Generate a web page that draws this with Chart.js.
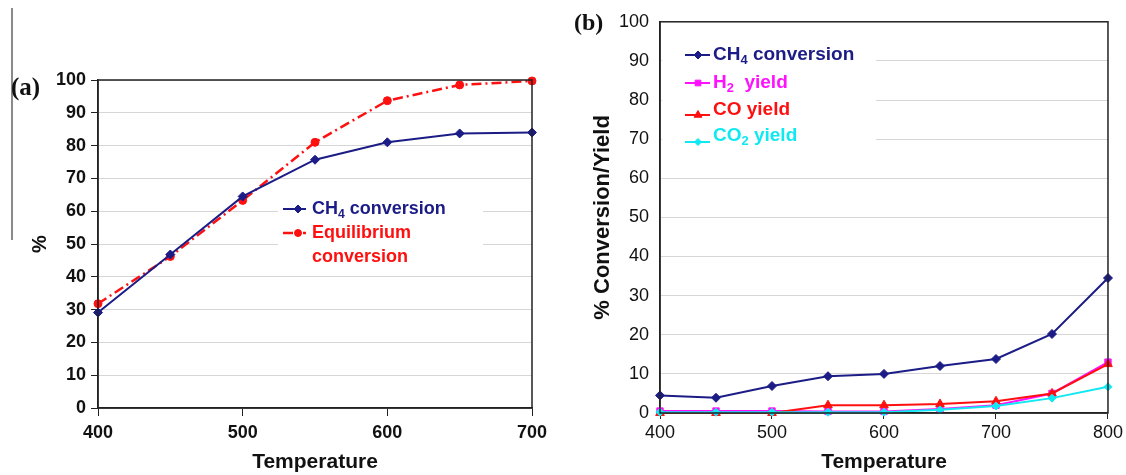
<!DOCTYPE html>
<html>
<head>
<meta charset="utf-8">
<script src="https://cdn.jsdelivr.net/npm/chart.js"></script>
<style>
    body { margin: 0; background: #fff; }
    #contenedor { position: relative; width: 1126px; height: 475px; overflow: hidden; }
    .panel { position: absolute; top: 0; height: 475px; }
    .etiqueta { position: absolute; font-family: "Liberation Serif", "Times New Roman", serif; font-weight: bold; color: #111; line-height: 1; }
    #raya { position: absolute; left: 11px; top: 8px; width: 2px; height: 232px; background: #8a8a8a; }
</style>
</head>
<body>
<div id="contenedor">
    <div class="panel" style="left:0;width:560px"><canvas id="grafico-a"></canvas></div>
    <div class="panel" style="left:560px;width:566px"><canvas id="grafico-b"></canvas></div>
    <div id="raya"></div>
    <div class="etiqueta" style="left:11px;top:74px;font-size:25px">(a)</div>
    <div class="etiqueta" style="left:574px;top:10px;font-size:24px">(b)</div>
</div>
<script>
// Datos panel (a)
const temperaturasA = [400, 450, 500, 550, 600, 650, 700];
const conversionCH4A = [29.1, 46.8, 64.5, 75.7, 81.0, 83.7, 84.0];
const conversionEquilibrio = [31.8, 46.2, 63.3, 81.0, 93.7, 98.5, 99.7];
const ticksXA = [400, 500, 600, 700];

// Datos panel (b)
const temperaturasB = [400, 450, 500, 550, 600, 650, 700, 750, 800];
const conversionCH4B = [4.5, 3.9, 6.9, 9.4, 10.0, 12.0, 13.8, 20.2, 34.5];
const rendimientoH2 = [0.5, 0.5, 0.5, 0.4, 0.4, 1.0, 2.0, 5.0, 13.0];
const rendimientoCO = [0.0, 0.0, 0.0, 2.0, 2.0, 2.3, 3.0, 5.0, 12.5];
const rendimientoCO2 = [0.2, 0.2, 0.2, 0.2, 0.2, 0.8, 1.8, 3.8, 6.7];
const ticksXB = [400, 500, 600, 700, 800];

const ticksY = [0, 10, 20, 30, 40, 50, 60, 70, 80, 90, 100];

const AZUL = "#1c1c86";
const ROJO = "#ff1010";
const MAGENTA = "#ff10ff";
const CIAN = "#10e8f2";
const FUENTE = '"Liberation Sans", Arial, sans-serif';

function puntos(xs, ys) {
    return xs.map((x, i) => ({ x: x, y: ys[i] }));
}

// caja negra alrededor del area del grafico
const marcoPlugin = {
    id: 'marco',
    afterDraw(chart) {
        const a = chart.chartArea;
        const ctx = chart.ctx;
        ctx.save();
        ctx.strokeStyle = "#222";
        ctx.lineWidth = 1.5;
        ctx.strokeRect(a.left, a.top, a.right - a.left, a.bottom - a.top);
        ctx.restore();
    }
};

// leyenda a mano, con subindices
const leyendaPlugin = {
    id: 'leyenda',
    beforeDatasetsDraw(chart, args, opts) {
        const ctx = chart.ctx;
        const f = opts.fondo;
        ctx.save();
        ctx.fillStyle = "#fff";
        ctx.fillRect(f.x, f.y, f.w, f.h);
        ctx.restore();
    },
    afterDraw(chart, args, opts) {
        const ctx = chart.ctx;
        ctx.save();
        opts.items.forEach(function (item) {
            const yl = item.y + (item.dy || 0);
            if (item.marca) {
                ctx.strokeStyle = item.color;
                ctx.fillStyle = item.color;
                ctx.lineWidth = item.ancho || 2;
                ctx.setLineDash(item.dash || []);
                ctx.beginPath();
                ctx.moveTo(opts.x0, yl);
                ctx.lineTo(opts.x1, yl);
                ctx.stroke();
                ctx.setLineDash([]);
                ctx.lineWidth = 1;
                Chart.helpers.drawPoint(ctx, { pointStyle: item.marca, radius: item.radio, rotation: 0, borderWidth: 1 }, opts.xm, yl);
            }
            let x = opts.xt;
            ctx.fillStyle = item.color;
            ctx.textBaseline = "middle";
            item.partes.forEach(function (p) {
                const sub = p[1];
                ctx.font = "bold " + (sub ? opts.tam * 0.68 : opts.tam) + "px " + FUENTE;
                ctx.fillText(p[0], x, item.y + (sub ? opts.tam * 0.3 : 0));
                x += ctx.measureText(p[0]).width;
            });
        });
        ctx.restore();
    }
};

function ejeY(titulo, tamTitulo, tamTicks, negrita, conTicks, ancho) {
    return {
        type: 'linear', min: 0, max: 100,
        afterBuildTicks: s => { s.ticks = ticksY.map(v => ({ value: v })); },
        afterFit: s => { s.width = ancho; },
        grid: { color: "#d6d6d6", lineWidth: 1, drawTicks: conTicks, tickLength: 7, tickColor: "#222" },
        border: { color: "#222", width: 1.5 },
        ticks: {
            color: "#111", padding: conTicks ? 5 : 11,
            font: { family: FUENTE, size: tamTicks, weight: negrita ? 'bold' : 'normal' }
        },
        title: {
            display: true, text: titulo, color: "#111", padding: 0,
            font: { family: FUENTE, size: tamTitulo, weight: 'bold' }
        }
    };
}

function ejeX(min, max, lista, tamTicks, negrita, largoTick, pad, alto) {
    return {
        type: 'linear', min: min, max: max,
        afterBuildTicks: s => { s.ticks = lista.map(v => ({ value: v })); },
        afterFit: s => { s.height = alto; },
        grid: { drawOnChartArea: false, drawTicks: true, tickLength: largoTick, tickColor: "#222" },
        border: { color: "#222", width: 1.5 },
        ticks: {
            color: "#111", padding: pad, maxRotation: 0,
            font: { family: FUENTE, size: tamTicks, weight: negrita ? 'bold' : 'normal' }
        },
        title: {
            display: true, text: 'Temperature', color: "#111", padding: 0,
            font: { family: FUENTE, size: 21, weight: 'bold' }
        }
    };
}

const comunes = {
    responsive: true,
    maintainAspectRatio: false,
    animation: false,
    events: []
};

new Chart(document.getElementById('grafico-a'), {
    type: 'line',
    data: {
        datasets: [{
            label: 'CH4 conversion',
            data: puntos(temperaturasA, conversionCH4A),
            borderColor: AZUL, backgroundColor: AZUL,
            borderWidth: 2, tension: 0, clip: false,
            pointStyle: 'rectRot', pointRadius: 4.5, pointBorderWidth: 1
        }, {
            label: 'Equilibrium conversion',
            data: puntos(temperaturasA, conversionEquilibrio),
            borderColor: ROJO, backgroundColor: ROJO,
            borderWidth: 2.5, borderDash: [10, 4, 2, 4], tension: 0, clip: false,
            pointStyle: 'circle', pointRadius: 4, pointBorderWidth: 1
        }]
    },
    options: Object.assign({}, comunes, {
        layout: { padding: { left: 28, top: 80, right: 28, bottom: 0 } },
        scales: {
            x: ejeX(400, 700, ticksXA, 18, true, 8, 6, 67),
            y: ejeY('%', 20, 18, true, true, 70)
        },
        plugins: {
            legend: { display: false },
            tooltip: { enabled: false },
            leyenda: {
                fondo: { x: 278, y: 192, w: 205, h: 78 },
                x0: 283, x1: 306, xm: 298, xt: 312, tam: 18,
                items: [
                    { y: 209, color: AZUL, marca: 'rectRot', radio: 4, ancho: 2,
                      partes: [['CH', false], ['4', true], [' conversion', false]] },
                    { y: 233, color: ROJO, marca: 'circle', radio: 3.5, ancho: 2.5, dash: [10, 4, 2, 4],
                      partes: [['Equilibrium', false]] },
                    { y: 257, color: ROJO,
                      partes: [['conversion', false]] }
                ]
            }
        }
    }),
    plugins: [leyendaPlugin, marcoPlugin]
});

new Chart(document.getElementById('grafico-b'), {
    type: 'line',
    data: {
        datasets: [{
            label: 'CH4 conversion',
            data: puntos(temperaturasB, conversionCH4B),
            borderColor: AZUL, backgroundColor: AZUL, order: 3,
            borderWidth: 2, tension: 0, clip: false,
            pointStyle: 'rectRot', pointRadius: 4.5, pointBorderWidth: 1
        }, {
            label: 'H2 yield',
            data: puntos(temperaturasB, rendimientoH2),
            borderColor: MAGENTA, backgroundColor: MAGENTA, order: 2,
            borderWidth: 2, tension: 0, clip: false,
            pointStyle: 'rect', pointRadius: 4.5, pointBorderWidth: 1
        }, {
            label: 'CO yield',
            data: puntos(temperaturasB, rendimientoCO),
            borderColor: ROJO, backgroundColor: ROJO, order: 1,
            borderWidth: 2, tension: 0, clip: false,
            pointStyle: 'triangle', pointRadius: 5, pointBorderWidth: 1
        }, {
            label: 'CO2 yield',
            data: puntos(temperaturasB, rendimientoCO2),
            borderColor: CIAN, backgroundColor: CIAN, order: 0,
            borderWidth: 2, tension: 0, clip: false,
            pointStyle: 'rectRot', pointRadius: 4, pointBorderWidth: 1
        }]
    },
    options: Object.assign({}, comunes, {
        layout: { padding: { left: 30, top: 14, right: 18, bottom: 0 } },
        scales: {
            x: ejeX(400, 800, ticksXB, 18, false, 6, 3, 62),
            y: ejeY('% Conversion/Yield', 22, 18, false, false, 70)
        },
        plugins: {
            legend: { display: false },
            tooltip: { enabled: false },
            leyenda: {
                fondo: { x: 102, y: 36, w: 214, h: 114 },
                x0: 125, x1: 150, xm: 138, xt: 153, tam: 19,
                items: [
                    { y: 55, color: AZUL, marca: 'rectRot', radio: 4, ancho: 2,
                      partes: [['CH', false], ['4', true], [' conversion', false]] },
                    { y: 83, color: MAGENTA, marca: 'rect', radio: 4, ancho: 2,
                      partes: [['H', false], ['2', true], ['  yield', false]] },
                    { y: 110, dy: 5, color: ROJO, marca: 'triangle', radio: 4.5, ancho: 2,
                      partes: [['CO yield', false]] },
                    { y: 136, dy: 6, color: CIAN, marca: 'rectRot', radio: 3.5, ancho: 2,
                      partes: [['CO', false], ['2', true], [' yield', false]] }
                ]
            }
        }
    }),
    plugins: [leyendaPlugin, marcoPlugin]
});
</script>
</body>
</html>
